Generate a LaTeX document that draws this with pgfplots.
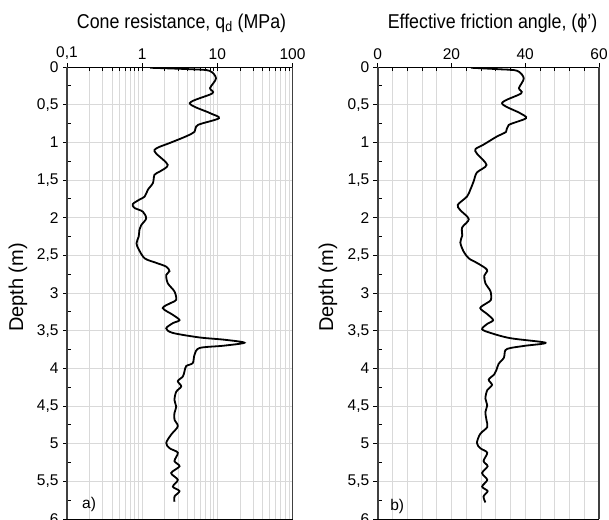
\documentclass[border=0pt]{standalone}
\usepackage{fontspec}
\setmainfont{Liberation Sans}
\usepackage{graphicx}
\usepackage{pgfplots}
\pgfplotsset{compat=1.18}
\definecolor{gridgray}{HTML}{D9D9D9}
\definecolor{axisgray}{HTML}{404040}

\pgfplotsset{
  depthaxis/.style={
    scale only axis,height=452bp,
    y dir=reverse,ymin=0,ymax=6,
    ytick={0,0.5,1,1.5,2,2.5,3,3.5,4,4.5,5,5.5,6},minor y tick num=1,
    /pgf/number format/assume math mode=true,
    /pgf/number format/use comma,/pgf/number format/fixed,
    xtick pos=right,xticklabel pos=right,
    ytick pos=left,yticklabel pos=left,
    tick align=inside,major tick length=-4.5bp,minor tick length=4bp,
    tick style={black,line width=0.8bp},
    xmajorgrids=true,xminorgrids=true,ymajorgrids=true,
    grid style={gridgray,line width=0.9bp},
    minor grid style={gridgray,line width=0.9bp},
    separate axis lines,
    x axis line style={black,line width=1bp},
    y axis line style={axisgray,line width=1.7bp},
    tick label style={font=\fontsize{15.5bp}{18bp}\selectfont},
    xticklabel style={yshift=4bp},
    yticklabel style={xshift=-5bp},
  },
  curve/.style={black,line width=1.8bp,smooth,no marks},
}
\newcommand{\titlefont}{\fontsize{20bp}{24bp}\selectfont}

\begin{document}
\begin{tikzpicture}
\begin{axis}[depthaxis,
  at={(67bp,1bp)},anchor=south west,width=225.5bp,
  xmode=log,xmin=0.1,xmax=100,
  xtick={0.1,1,10,100},xticklabels={{0,1},1,10,100}]
\addplot[curve] coordinates {
(1.28,0.01) (4.5,0.03) (7.85,0.05) (9.6,0.15) (8.0,0.28) (8.6,0.35)
(4.3,0.48) (7.9,0.61) (10.5,0.68) (5.5,0.77) (4.97,0.86) (3.85,0.92)
(2.31,1.01) (1.70,1.06) (1.46,1.10) (1.54,1.15) (2.19,1.30) (1.70,1.39)
(1.46,1.43) (1.39,1.54) (1.19,1.63) (1.08,1.72) (0.92,1.76) (0.75,1.82)
(0.79,1.87) (1.02,1.92) (1.13,2.01) (0.97,2.10) (0.92,2.16) (0.90,2.25)
(0.84,2.34) (0.90,2.42) (1.08,2.54) (1.54,2.60) (2.09,2.65) (2.31,2.71)
(2.09,2.76) (2.19,2.87) (2.69,2.98) (2.84,3.09) (2.43,3.13) (1.88,3.20)
(2.56,3.29) (3.14,3.36) (2.56,3.40) (2.09,3.47) (2.56,3.53) (5.8,3.59)
(12.4,3.62) (22.9,3.66) (12.0,3.70) (5.8,3.73) (4.97,3.82) (4.71,3.93)
(3.85,3.97) (3.66,4.04) (3.47,4.11) (2.98,4.17) (3.31,4.24) (2.84,4.31)
(2.69,4.42) (2.84,4.51) (2.69,4.59) (2.69,4.68) (2.98,4.77) (2.43,4.88)
(2.09,4.99) (2.31,5.06) (2.98,5.12) (2.69,5.23) (3.14,5.30) (2.43,5.39)
(2.98,5.48) (2.56,5.57) (3.14,5.63) (2.69,5.70) (2.69,5.77)
};
\node[anchor=west,font=\fontsize{15.5bp}{18bp}\selectfont] at (axis cs:0.143,5.81) {a)};
\end{axis}

\begin{axis}[depthaxis,
  at={(377.7bp,1bp)},anchor=south west,width=221.3bp,
  xmin=0,xmax=60,xtick={0,20,40,60},minor x tick num=4]
\addplot[curve] coordinates {
(25.3,0.01) (33,0.03) (37.8,0.05) (39.6,0.15) (38.3,0.28) (38.9,0.35)
(33.7,0.48) (38.5,0.61) (40.2,0.68) (35.5,0.77) (34.8,0.86) (32.4,0.92)
(28.7,1.03) (26.5,1.09) (26.9,1.15) (29.5,1.30) (26.9,1.40) (26.0,1.52)
(25.1,1.63) (24.2,1.72) (21.7,1.83) (22.4,1.90) (24.7,2.02) (22.9,2.13)
(22.9,2.24) (22.4,2.33) (23.3,2.45) (24.7,2.54) (26.9,2.60) (29.2,2.67)
(29.7,2.71) (28.9,2.77) (29.2,2.87) (30.6,2.98) (30.7,3.09) (29.7,3.13)
(27.8,3.20) (29.7,3.28) (31.3,3.36) (29.7,3.41) (28.3,3.48) (30.6,3.53)
(36.0,3.60) (45.5,3.66) (40.0,3.70) (36.0,3.73) (34.6,3.76) (34.2,3.86)
(32.8,3.94) (32.2,4.02) (31.6,4.08) (30.1,4.15) (31.0,4.22) (29.7,4.29)
(29.2,4.40) (29.7,4.49) (29.2,4.58) (29.5,4.69) (29.7,4.78) (27.8,4.87)
(26.9,4.99) (27.8,5.06) (29.7,5.12) (28.7,5.23) (29.8,5.30) (28.3,5.39)
(29.7,5.48) (28.3,5.57) (29.8,5.63) (28.7,5.70) (29.2,5.78)
};
\node[anchor=west,font=\fontsize{15.5bp}{18bp}\selectfont] at (axis cs:2.45,5.84) {b)};
\end{axis}

\node at (181.5bp,497bp) {\scalebox{0.89}[1]{\titlefont Cone resistance, q\textsubscript{d} (MPa)}};
\node at (492.5bp,497bp) {\scalebox{0.89}[1]{\titlefont Effective friction angle, (ϕ')}};
\node[rotate=90,font=\fontsize{20bp}{24bp}\selectfont] at (18bp,232.5bp) {Depth (m)};
\node[rotate=90,font=\fontsize{20bp}{24bp}\selectfont] at (328bp,232.5bp) {Depth (m)};

\pgfresetboundingbox
\useasboundingbox (0,0) rectangle (609bp,520bp);
\end{tikzpicture}
\end{document}
